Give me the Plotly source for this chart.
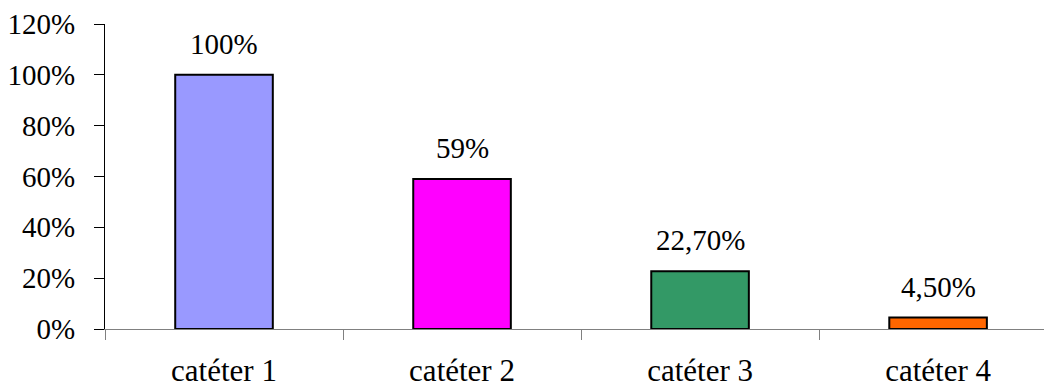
import plotly.graph_objects as go

categories = ["catéter 1", "catéter 2", "catéter 3", "catéter 4"]
values = [1.00, 0.59, 0.227, 0.045]
value_labels = ["100%", "59%", "22,70%", "4,50%"]
colors = ["#9999FF", "#FF00FF", "#339966", "#FF6600"]
y_ticks = [0, 0.2, 0.4, 0.6, 0.8, 1.0, 1.2]
y_tick_labels = ["0%", "20%", "40%", "60%", "80%", "100%", "120%"]

FONT = "Liberation Serif"

fig = go.Figure()
fig.add_trace(go.Bar(
    x=categories, y=values, width=0.41,
    marker=dict(color=colors, line=dict(color="black", width=2)),
    hoverinfo="skip",
))

for c, v, t in zip(categories, values, value_labels):
    fig.add_annotation(x=c, y=v, text=t, showarrow=False, yanchor="bottom",
                       yshift=13, font=dict(family=FONT, size=29, color="black"))

fig.update_layout(
    width=1044, height=391,
    margin=dict(l=105, r=0, t=24, b=62),
    paper_bgcolor="white", plot_bgcolor="white",
    showlegend=False,
    font=dict(family=FONT, size=29, color="black"),
    xaxis=dict(
        type="category", range=[-0.5, 3.445], automargin=False,
        showline=True, linecolor="#808080", linewidth=1,
        ticks="outside", tickson="boundaries", ticklen=10, tickcolor="#808080",
        showgrid=False, zeroline=False,
        tickfont=dict(family=FONT, size=31, color="black"),
        ticklabelstandoff=14,
    ),
    yaxis=dict(
        range=[0, 1.2], tickvals=y_ticks, ticktext=y_tick_labels, automargin=False,
        showline=True, linecolor="black", linewidth=1,
        ticks="outside", ticklen=10, tickcolor="black",
        showgrid=False, zeroline=False,
        tickfont=dict(family=FONT, size=29, color="black"),
        ticklabelstandoff=13,
    ),
)

fig.write_html("out.html")
